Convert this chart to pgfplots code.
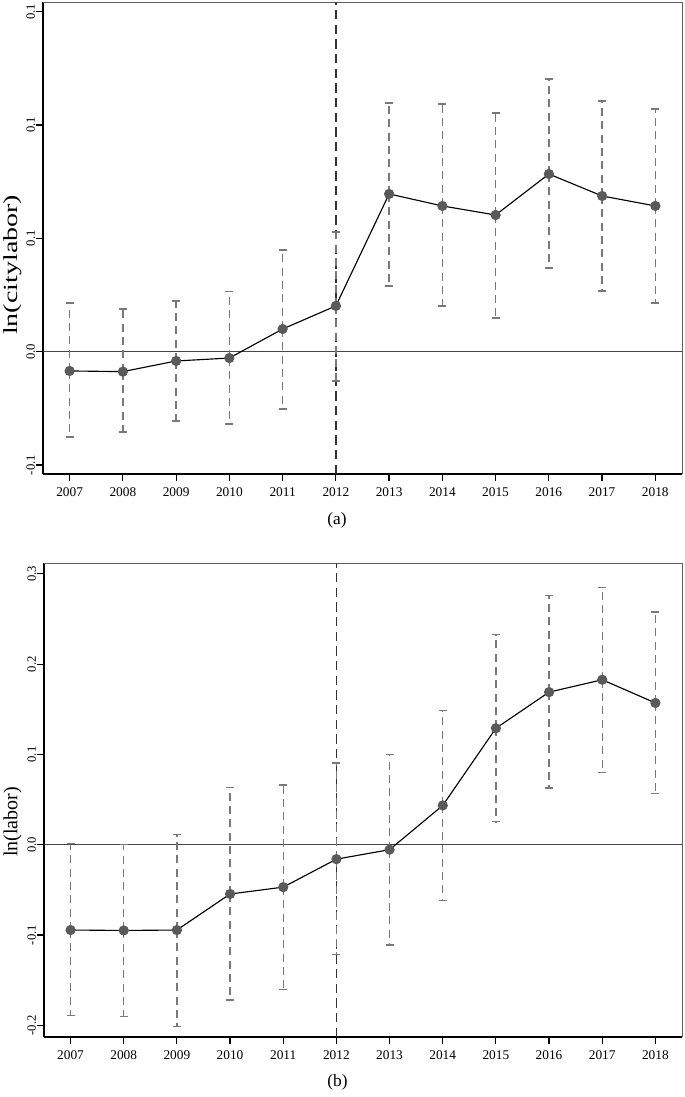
\documentclass[border=0pt]{standalone}
\usepackage{graphicx}
\usepackage{pgfplots}
\pgfplotsset{compat=1.18}
\usepackage{pgfplotstable}
\usepackage{fontspec}
\setmainfont{Liberation Serif}

\definecolor{ciGray}{RGB}{120,120,120}
\definecolor{dotGray}{RGB}{90,90,90}
\definecolor{frameGray}{RGB}{95,95,95}
\definecolor{zeroGray}{RGB}{70,70,70}

% estimate, lower and upper bound of the interval
\pgfplotstableread{
year  b        lo       hi
2007 -0.0085  -0.0376  0.0215
2008 -0.0088  -0.0354  0.0188
2009 -0.0041  -0.0306  0.0224
2010 -0.0028  -0.0319  0.0264
2011  0.0100  -0.0253  0.0449
2012  0.0202  -0.0129  0.0528
2013  0.0696   0.0290  0.1097
2014  0.0643   0.0202  0.1093
2015  0.0603   0.0149  0.1053
2016  0.0784   0.0369  0.1203
2017  0.0687   0.0268  0.1106
2018  0.0643   0.0215  0.1071
}\citytab

\pgfplotstableread{
year  b        lo       hi
2007 -0.0945  -0.1890  0.0010
2008 -0.0950  -0.1900  0.0000
2009 -0.0945  -0.2010  0.0114
2010 -0.0546  -0.1720  0.0630
2011 -0.0470  -0.1600  0.0660
2012 -0.0160  -0.1220  0.0905
2013 -0.0055  -0.1110  0.0997
2014  0.0435  -0.0617  0.1490
2015  0.1290   0.0255  0.2326
2016  0.1690   0.0628  0.2760
2017  0.1827   0.0800  0.2850
2018  0.1570   0.0565  0.2577
}\labortab

\tikzset{
  labfont/.style={font=\fontsize{15}{17}\selectfont},
  capfont/.style={font=\fontsize{13}{15}\selectfont},
}

\pgfplotsset{
  panel/.style={
    scale only axis,
    xmin=2006.5, xmax=2018.5,
    xtick={2007,...,2018},
    /pgf/number format/1000 sep={},
    /pgf/number format/assume math mode=true,
    axis x line*=bottom, axis y line*=left,
    axis line style={line width=1.1pt, black},
    tick align=outside,
    major tick length=5pt,
    tick style={line width=0.9pt, black},
    xticklabel style={font=\fontsize{10}{12}\selectfont, yshift=-1.5pt},
    yticklabel style={font=\fontsize{9.5}{11}\selectfont, rotate=90, anchor=south, inner sep=0.8pt},
    clip=false,
  },
  est/.style={black, line width=0.85pt, mark=*, mark size=3.4pt,
    mark options={draw=dotGray, fill=dotGray, solid},
    error bars/.cd, y dir=both, y explicit,
    error bar style={draw=ciGray, line width=0.95pt, dash pattern=on 6pt off 4pt},
    error mark options={draw=ciGray, line width=0.95pt, solid, mark size=3pt, rotate=90}},
}

\begin{document}
\begin{tikzpicture}
\begin{axis}[panel, at={(0pt,0pt)}, anchor=north west,
    width=479.25pt, height=354pt,
    ymin=-0.05397, ymax=0.15428,
    ytick={-0.05,0,0.05,0.10,0.15},
    yticklabels={-0.1,0.0,0.1,0.1,0.1},
  ]
  \draw[frameGray, line width=0.6pt] (rel axis cs:0,1) -- (rel axis cs:1,1) -- (rel axis cs:1,0);
  \draw[zeroGray, line width=0.9pt] (axis cs:2006.5,0) -- (axis cs:2018.5,0);
  \draw[black!80, line width=1pt, dash pattern=on 7pt off 4pt] (axis cs:2012,-0.05397) -- (axis cs:2012,0.15428);
  \addplot[est] table[x=year, y=b, y error plus expr=\thisrow{hi}-\thisrow{b}, y error minus expr=\thisrow{b}-\thisrow{lo}] {\citytab};
  \node[labfont, rotate=90] at ([xshift=-23pt]rel axis cs:0,0.443) {\scalebox{1.4}[1]{ln(citylabor)}};
  \node[capfont] at ([yshift=-35pt]rel axis cs:0.46,0) {(a)};
\end{axis}

\begin{axis}[panel, at={(0.75pt,-420.75pt)}, anchor=north west,
    width=478.5pt, height=355.5pt,
    ymin=-0.213, ymax=0.312,
    ytick={-0.2,-0.1,0,0.1,0.2,0.3},
    yticklabels={-0.2,-0.1,0.0,0.1,0.2,0.3},
  ]
  \draw[frameGray, line width=0.6pt] (rel axis cs:0,1) -- (rel axis cs:1,1) -- (rel axis cs:1,0);
  \draw[zeroGray, line width=0.9pt] (axis cs:2006.5,0) -- (axis cs:2018.5,0);
  \draw[black!80, line width=1pt, dash pattern=on 7pt off 4pt] (axis cs:2012,-0.213) -- (axis cs:2012,0.312);
  \addplot[est] table[x=year, y=b, y error plus expr=\thisrow{hi}-\thisrow{b}, y error minus expr=\thisrow{b}-\thisrow{lo}] {\labortab};
  \node[labfont, rotate=90] at ([xshift=-23.5pt]rel axis cs:0,0.454) {ln(labor)};
  \node[capfont] at ([yshift=-34pt]rel axis cs:0.46,0) {(b)};
\end{axis}

\pgfresetboundingbox
\path[use as bounding box] (-32.25pt,1.5pt) rectangle (481.5pt,-821.25pt);
\end{tikzpicture}
\end{document}
